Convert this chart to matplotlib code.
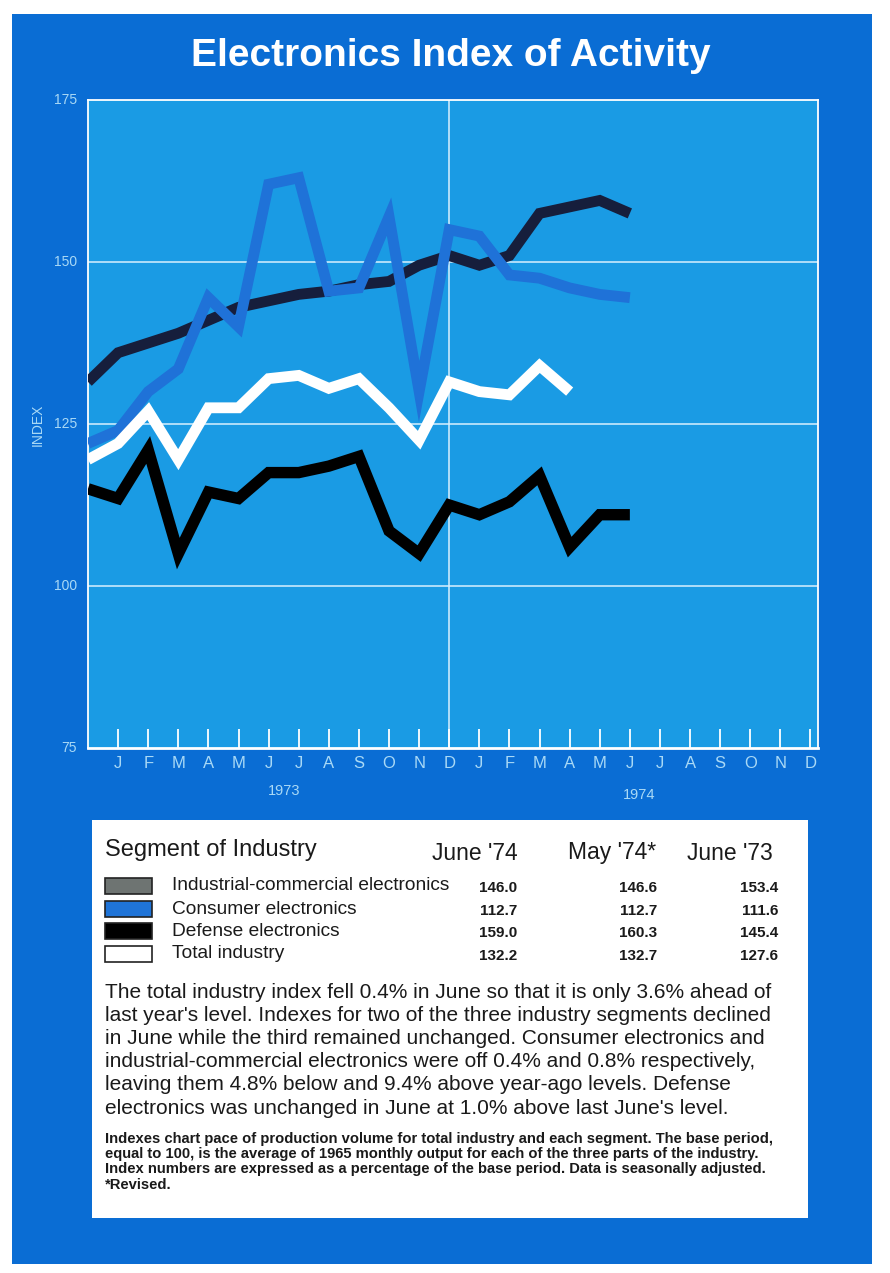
import matplotlib.pyplot as plt
from matplotlib.patches import Rectangle

# months: x=0 is Dec '72, 1..24 = Jan '73 .. Dec '74
month_letters = list("JFMAMJJASOND") * 2
month_pos = list(range(1, 25))

# lines as drawn on the chart (value per month from Dec '72)
navy_vals = [131.5, 136, 137.5, 139, 141, 143, 144, 145, 145.5, 146.5, 147,
             149.5, 151, 149.5, 151, 157.5, 158.5, 159.5, 157.5]
blue_vals = [122, 124, 130, 133.5, 144.5, 140, 162, 163, 145.5, 146, 157,
             130, 155, 154, 148, 147.5, 146, 145, 144.5]
white_vals = [119.5, 122, 127, 119.5, 127.5, 127.5, 132, 132.5, 130.5, 132,
              127.5, 122.5, 131.5, 130, 129.5, 134, 130]
black_vals = [115, 113.5, 121, 105, 114.5, 113.5, 117.5, 117.5, 118.5, 120,
              108.5, 105, 112.5, 111, 113, 117, 106, 111, 111]

y_ticks = [75, 100, 125, 150, 175]

# table
segments = ["Industrial-commercial electronics", "Consumer electronics",
            "Defense electronics", "Total industry"]
swatch_colors = ["#6e7472", "#1f74d8", "#000000", "#ffffff"]
june74 = ["146.0", "112.7", "159.0", "132.2"]
may74 = ["146.6", "112.7", "160.3", "132.7"]
june73 = ["153.4", "111.6", "145.4", "127.6"]
col_heads = ["June '74", "May '74*", "June '73"]

paragraph = [
    "The total industry index fell 0.4% in June so that it is only 3.6% ahead of",
    "last year's level. Indexes for two of the three industry segments declined",
    "in June while the third remained unchanged. Consumer electronics and",
    "industrial-commercial electronics were off 0.4% and 0.8% respectively,",
    "leaving them 4.8% below and 9.4% above year-ago levels. Defense",
    "electronics was unchanged in June at 1.0% above last June's level.",
]
footnote = [
    "Indexes chart pace of production volume for total industry and each segment. The base period,",
    "equal to 100, is the average of 1965 monthly output for each of the three parts of the industry.",
    "Index numbers are expressed as a percentage of the base period. Data is seasonally adjusted.",
    "*Revised.",
]

plt.rcParams['font.family'] = ['Liberation Sans', 'DejaVu Sans']

W, H = 890, 1273
fig = plt.figure(figsize=(W / 100, H / 100), dpi=100)
fig.patch.set_facecolor("white")

page_blue = "#0a6dd4"
label_col = "#a9d9f6"


def fx(px):
    return px / W


def fy(py):
    return 1 - py / H


# blue page
fig.patches.append(Rectangle((fx(12), fy(1264)), fx(872) - fx(12), fy(14) - fy(1264),
                             transform=fig.transFigure, facecolor=page_blue,
                             edgecolor="none", zorder=-5))

fig.text(fx(451), fy(56), "Electronics Index of Activity", color="white",
         fontsize=28, fontweight="bold", ha="center", va="center")

# chart
ax = fig.add_axes([fx(88), fy(748), fx(818) - fx(88), fy(100) - fy(748)])
ax.set_zorder(2)
ax.set_facecolor("#1a9be4")
ax.set_xlim(0, 24.25)
ax.set_ylim(75, 175)

for v in [100, 125, 150]:
    ax.axhline(v, color="#d8f0ff", lw=1.1, zorder=1)
ax.axvline(12, color="#d8f0ff", lw=1.1, zorder=1)

line_kw = dict(solid_joinstyle="miter", solid_capstyle="butt")
ax.plot(range(len(navy_vals)), navy_vals, color="#161e3c", lw=7.8, zorder=3, **line_kw)
ax.plot(range(len(blue_vals)), blue_vals, color="#1f72d8", lw=7.8, zorder=4, **line_kw)
ax.plot(range(len(white_vals)), white_vals, color="white", lw=7.8, zorder=5, **line_kw)
ax.plot(range(len(black_vals)), black_vals, color="black", lw=8.2, zorder=6, **line_kw)

for s in ax.spines.values():
    s.set_color("white")
    s.set_linewidth(1.3)
ax.spines["bottom"].set_linewidth(2)

ax.set_xticks(month_pos)
ax.set_xticklabels(month_letters)
ax.tick_params(axis="x", direction="in", length=14, width=1.3, color="white",
               labelcolor=label_col, labelsize=12, pad=6)
ax.set_yticks(y_ticks)
ax.set_yticklabels([str(t) for t in y_ticks])
ax.tick_params(axis="y", length=0, labelcolor=label_col, labelsize=10, pad=8)
for lab in ax.get_yticklabels():
    lab.set_va("center")

fig.text(fx(38), fy(425), "INDEX", color=label_col, fontsize=10, rotation=90,
         ha="center", va="center")
ax.text(6.5, -0.066, "1973", transform=ax.get_xaxis_transform(), color=label_col,
        fontsize=10.5, ha="center", va="center")
ax.text(18.3, -0.073, "1974", transform=ax.get_xaxis_transform(), color=label_col,
        fontsize=10.5, ha="center", va="center")

# white table panel
fig.patches.append(Rectangle((fx(92), fy(1218)), fx(808) - fx(92), fy(820) - fy(1218),
                             transform=fig.transFigure, facecolor="white",
                             edgecolor="none", zorder=1))

tc = "#1a1a1a"
fig.text(fx(105), fy(850), "Segment of Industry", color=tc, fontsize=17,
         ha="left", va="center", zorder=3)
head_x = [518, 656, 773]
for hx, h in zip(head_x, col_heads):
    fig.text(fx(hx), fy(853), h, color=tc, fontsize=16.5, ha="right",
             va="center", zorder=3)

row_y = [886, 909, 931, 954]
val_x = [517, 657, 778]
for i, seg in enumerate(segments):
    ry = row_y[i]
    fig.patches.append(Rectangle((fx(105), fy(ry + 8)), fx(152) - fx(105), fy(ry - 8) - fy(ry + 8),
                                 transform=fig.transFigure, facecolor=swatch_colors[i],
                                 edgecolor="#222222", lw=1.2, zorder=3))
    fig.text(fx(172), fy(ry), seg, color=tc, fontsize=13.8, ha="left",
             va="center", zorder=3)
    for vx, col in zip(val_x, [june74, may74, june73]):
        fig.text(fx(vx), fy(ry + 2), col[i], color=tc, fontsize=11,
                 fontweight="bold", ha="right", va="center", zorder=3)

for i, line in enumerate(paragraph):
    fig.text(fx(105), fy(992 + i * 23.2), line, color=tc, fontsize=15,
             ha="left", va="center", zorder=3)

for i, line in enumerate(footnote):
    fig.text(fx(105), fy(1139 + i * 15.2), line, color=tc, fontsize=10.6,
             fontweight="bold", ha="left", va="center", zorder=3)

fig.savefig("out.png", dpi=100, facecolor=fig.get_facecolor())
